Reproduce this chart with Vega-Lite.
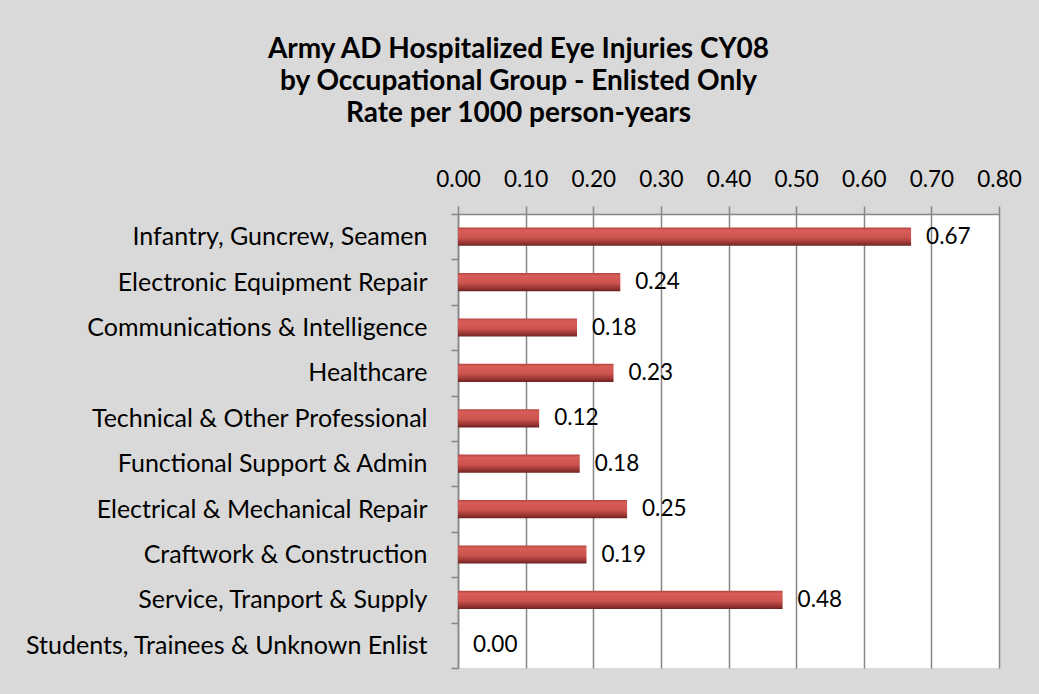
{
  "$schema": "https://vega.github.io/schema/vega-lite/v6.json",
  "width": 541,
  "height": 454,
  "autosize": {"type": "none"},
  "padding": {"left": 458, "top": 214, "right": 40, "bottom": 26},
  "background": "#d9d9d9",
  "title": {
    "text": ["Army AD Hospitalized Eye Injuries CY08", "by Occupational Group - Enlisted Only", "Rate per 1000 person-years"],
    "anchor": "middle",
    "dx": -210,
    "font": "Lato",
    "fontSize": 28,
    "fontWeight": "bold",
    "color": "#000000",
    "lineHeight": 32,
    "offset": 40
  },
  "data": {
    "values": [
      {"group": "Infantry, Guncrew, Seamen", "rate": 0.67},
      {"group": "Electronic Equipment Repair", "rate": 0.24},
      {"group": "Communications & Intelligence", "rate": 0.176},
      {"group": "Healthcare", "rate": 0.23},
      {"group": "Technical & Other Professional", "rate": 0.12},
      {"group": "Functional Support & Admin", "rate": 0.18},
      {"group": "Electrical & Mechanical Repair", "rate": 0.25},
      {"group": "Craftwork & Construction", "rate": 0.19},
      {"group": "Service, Tranport & Supply", "rate": 0.48},
      {"group": "Students, Trainees & Unknown Enlist", "rate": 0.0}
    ]
  },
  "encoding": {
    "y": {
      "field": "group",
      "type": "nominal",
      "sort": null,
      "scale": {"paddingInner": 0, "paddingOuter": 0},
      "axis": {
        "title": null,
        "tickBand": "extent",
        "tickSize": 7,
        "tickColor": "#868686",
        "tickWidth": 1.5,
        "domainColor": "#868686",
        "domainWidth": 1.5,
        "labelPadding": 24,
        "labelFont": "Lato",
        "labelFontSize": 25,
        "labelColor": "#000000",
        "labelLimit": 500,
        "grid": false
      }
    },
    "x": {
      "field": "rate",
      "type": "quantitative",
      "scale": {"domain": [0, 0.8], "nice": false},
      "axis": {
        "orient": "top",
        "title": null,
        "values": [0, 0.1, 0.2, 0.3, 0.4, 0.5, 0.6, 0.7, 0.8],
        "format": ".2f",
        "grid": true,
        "gridColor": "#868686",
        "gridWidth": 1.5,
        "tickSize": 8,
        "tickColor": "#868686",
        "tickWidth": 1.5,
        "domainColor": "#868686",
        "domainWidth": 1.5,
        "labelPadding": 15,
        "labelFlush": false,
        "labelOverlap": false,
        "labelFont": "Lato",
        "labelFontSize": 22.5,
        "labelColor": "#000000"
      }
    }
  },
  "layer": [
    {
      "mark": {
        "type": "bar",
        "height": {"band": 0.4},
        "fill": {
          "gradient": "linear",
          "x1": 0, "y1": 0, "x2": 0, "y2": 1,
          "stops": [
            {"offset": 0, "color": "#b5453f"},
            {"offset": 0.15, "color": "#d95d58"},
            {"offset": 0.55, "color": "#cc534e"},
            {"offset": 0.85, "color": "#963431"},
            {"offset": 1, "color": "#6b2220"}
          ]
        }
      }
    },
    {
      "mark": {"type": "text", "align": "left", "baseline": "middle", "dx": 15, "font": "Lato", "fontSize": 22.5, "color": "#000000"},
      "encoding": {"text": {"field": "rate", "type": "quantitative", "format": ".2f"}}
    }
  ],
  "config": {"view": {"fill": "#ffffff", "stroke": null}}
}
